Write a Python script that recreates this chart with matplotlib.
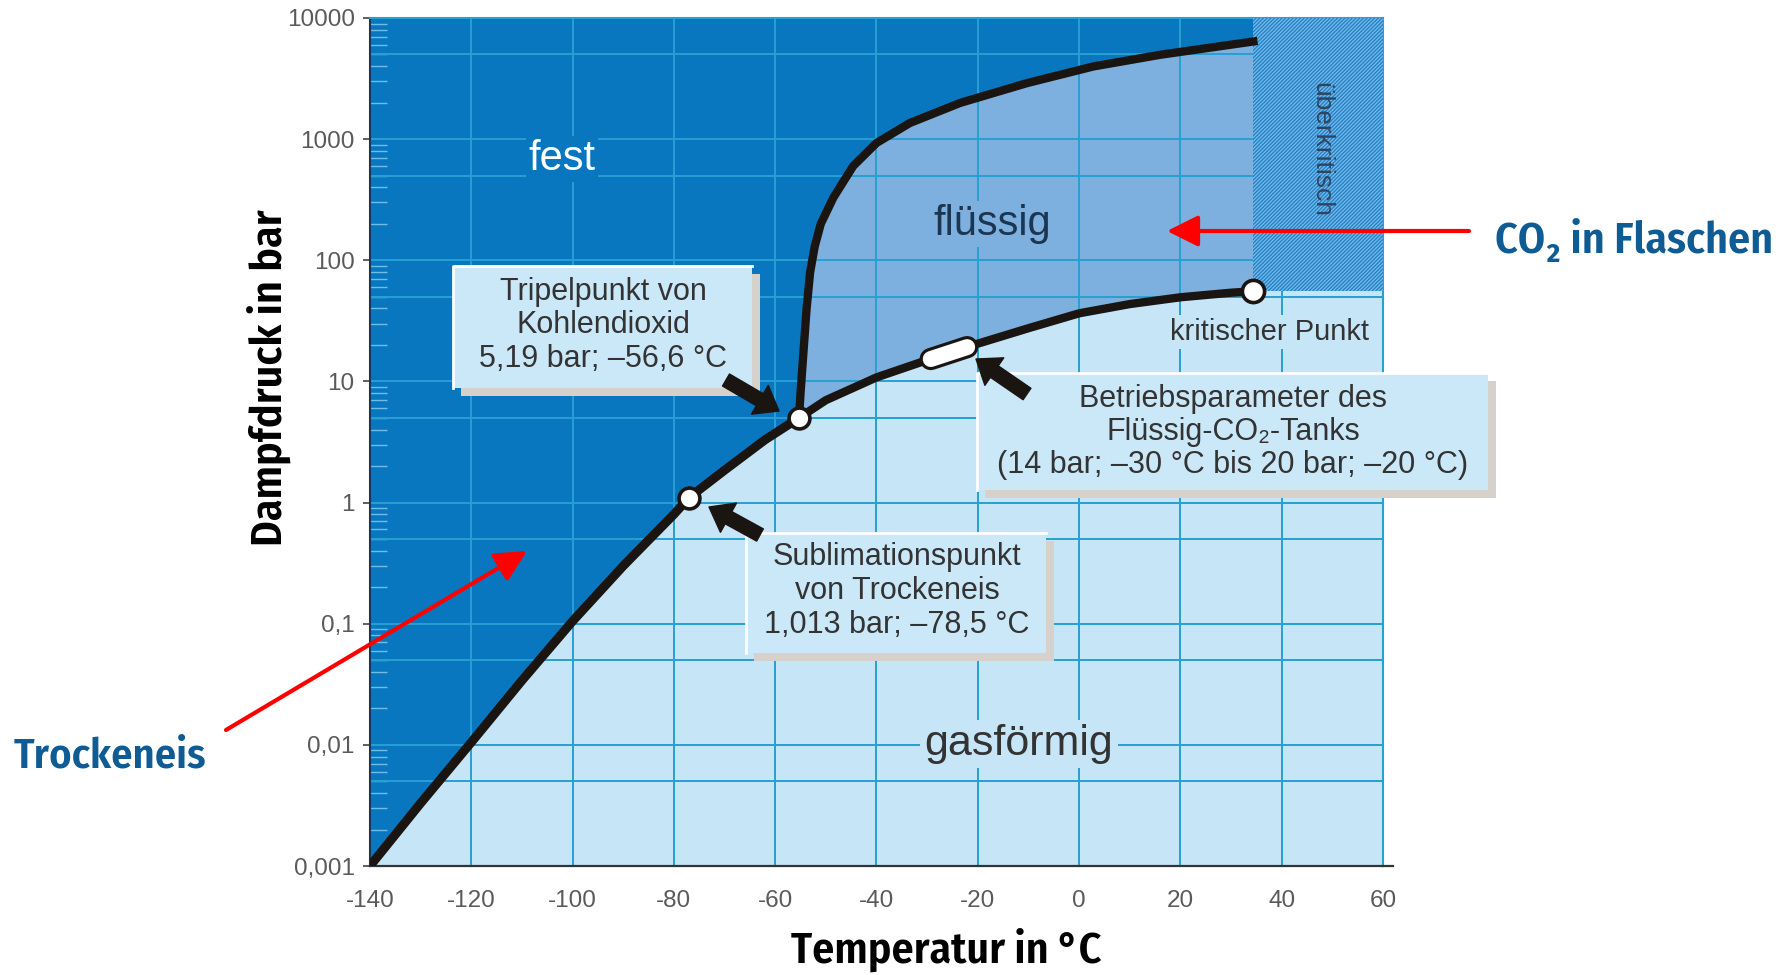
import matplotlib
matplotlib.use("Agg")
import matplotlib.pyplot as plt
from matplotlib.patches import Rectangle, FancyArrowPatch
from matplotlib.lines import Line2D
from matplotlib.ticker import LogLocator, NullFormatter

# ---------------- data ----------------
x_ticks = [-140, -120, -100, -80, -60, -40, -20, 0, 20, 40, 60]
x_tick_labels = ["-140", "-120", "-100", "-80", "-60", "-40", "-20", "0", "20", "40", "60"]
y_ticks = [0.001, 0.01, 0.1, 1, 10, 100, 1000, 10000]
y_tick_labels = ["0,001", "0,01", "0,1", "1", "10", "100", "1000", "10000"]

# sublimation curve (solid <-> gas)
subl_T = [-140, -130, -120, -110, -100, -90, -80, -77, -70, -62, -55.3]
subl_p = [0.001, 0.0033, 0.0105, 0.034, 0.105, 0.30, 0.80, 1.10, 1.85, 3.3, 5.0]
# melting curve (solid <-> liquid)
melt_T = [-55.3, -55.0, -54.4, -53.8, -53.1, -52.2, -51.0, -48.5, -44.6, -40.0, -33.4,
          -23.5, -10.3, 2.8, 16.0, 34.4]
melt_p = [5.0, 8, 18, 40, 80, 130, 200, 330, 600, 930, 1360, 1990, 2900, 3980, 4970, 6400]
# vapour pressure curve (liquid <-> gas)
vap_T = [-55.3, -50, -40, -30, -20, -10, 0, 10, 20, 30, 34.4]
vap_p = [5.0, 7.0, 10.8, 15.0, 20.5, 27.5, 36.5, 43.5, 49.5, 54.0, 55.5]

triple_T, triple_p = -55.3, 5.0
subl_pt_T, subl_pt_p = -77, 1.10
crit_T, crit_p = 34.4, 55.5
op_T = [-29.3, -22.1]
op_p = [15.3, 19.2]

# ---------------- styling ----------------
W, H = 1788, 975
def fx(x): return x / W
def fy(y): return 1 - y / H

C_SOLID = "#0877c0"
C_LIQ = "#7db0df"
C_GAS = "#c6e6f7"
C_GRID = "#27a0d2"
C_BOX = "#cbe8f8"
C_SHADOW = "#d6d1cb"
C_CURVE = "#1b1512"
C_TXT = "#333333"
C_BLUE_TXT = "#0f5b93"
COND = dict(family=["Fira Sans Condensed", "Roboto Condensed", "DejaVu Sans"],
            fontweight="semibold")

plt.rcParams['font.family'] = ['Liberation Sans', 'DejaVu Sans']
plt.rcParams['hatch.linewidth'] = 1.0

fig = plt.figure(figsize=(W / 100, H / 100), dpi=100)
ax = fig.add_axes([fx(370), fy(866), (1383 - 370) / W, (866 - 18) / H])
ax.set_yscale('log')
ax.set_facecolor(C_GAS)

# phase regions
solid_T = subl_T + melt_T[1:] + [melt_T[-1], subl_T[0]]
solid_p = subl_p + melt_p[1:] + [y_ticks[-1], y_ticks[-1]]
ax.fill(solid_T, solid_p, color=C_SOLID, lw=0, zorder=1)
liq_T = vap_T + melt_T[::-1]
liq_p = vap_p + melt_p[::-1]
ax.fill(liq_T, liq_p, color=C_LIQ, lw=0, zorder=1)

# grid
for t in x_ticks[1:-1]:
    ax.axvline(t, color=C_GRID, lw=1.4, zorder=2)
for e in range(-3, 4):
    for m in (1, 5):
        v = m * 10.0 ** e
        if y_ticks[0] < v < y_ticks[-1]:
            ax.axhline(v, color=C_GRID, lw=1.4, zorder=2)

# supercritical hatched area
ax.fill_between([crit_T, x_ticks[-1]], crit_p, y_ticks[-1], facecolor="#72bfee",
                edgecolor="#2a7fc4", hatch='/' * 9, lw=0, zorder=2.6)

# phase boundary curves
ax.plot(subl_T, subl_p, color=C_CURVE, lw=6.5, solid_joinstyle='round', zorder=3)
ax.plot(melt_T, melt_p, color=C_CURVE, lw=6.0, solid_joinstyle='round', zorder=3)
ax.plot(vap_T, vap_p, color=C_CURVE, lw=6.0, solid_joinstyle='round', zorder=3)

# operating range capsule
ax.plot(op_T, op_p, color=C_CURVE, lw=16, solid_capstyle='round', zorder=4)
ax.plot(op_T, op_p, color='white', lw=11.5, solid_capstyle='round', zorder=4.1)

# special points
for (t, p, ms) in [(triple_T, triple_p, 15), (subl_pt_T, subl_pt_p, 15), (crit_T, crit_p, 16)]:
    ax.plot([t], [p], marker='o', ms=ms, mfc='white', mec=C_CURVE, mew=2.6, zorder=5)

# axes formatting
ax.set_xlim(x_ticks[0], x_ticks[-1])
ax.set_ylim(y_ticks[0], y_ticks[-1])
ax.set_xticks(x_ticks, x_tick_labels)
ax.set_yticks(y_ticks, y_tick_labels)
ax.yaxis.set_minor_locator(LogLocator(base=10, subs=range(2, 10), numticks=30))
ax.yaxis.set_minor_formatter(NullFormatter())
ax.tick_params(axis='x', length=0, pad=17, labelsize=17.5, labelcolor='#5a5a5a')
ax.tick_params(axis='y', which='major', length=5, width=1.2, color='#444444', pad=6,
               labelsize=17.5, labelcolor='#5a5a5a', direction='out')
ax.tick_params(axis='y', which='minor', length=12, width=1.0, color='#70bce9', direction='in')
ax.spines['bottom'].set_color('#333333')
ax.spines['bottom'].set_linewidth(1.6)
ax.spines['left'].set_color('#16365a')
ax.spines['left'].set_linewidth(1.5)
for s in ('top', 'right'):
    ax.spines[s].set_color(C_GRID)
    ax.spines[s].set_linewidth(1.5)
ax.plot([1, 1.01], [0, 0], transform=ax.transAxes, clip_on=False, color='#333333', lw=1.6)

def atext(x, y, s, **kw):
    return ax.text(fx(x), fy(y), s, transform=fig.transFigure, **kw)

# region labels
atext(562, 170, "fest", ha='center', va='baseline', fontsize=30, color='white',
      bbox=dict(fc=C_SOLID, ec='none', pad=2), zorder=2.5)
atext(992, 235, "flüssig", ha='center', va='baseline', fontsize=30, color='#1c3550',
      bbox=dict(fc=C_LIQ, ec='none', pad=2), zorder=2.5)
atext(1019, 755, "gasförmig", ha='center', va='baseline', fontsize=31, color=C_TXT,
      bbox=dict(fc=C_GAS, ec='none', pad=3), zorder=2.5)
atext(1270, 340, "kritischer Punkt", ha='center', va='baseline', fontsize=21, color=C_TXT,
      bbox=dict(fc=C_GAS, ec='none', pad=2), zorder=2.5)
atext(1321, 150, "überkritisch", ha='center', va='center', rotation=-90, fontsize=19,
      color='#2d4560', zorder=2.7)

# axis titles
fig.text(fx(946), fy(963), "Temperatur in °C", ha='center', va='baseline', fontsize=31.5,
         color='black', **COND)
fig.text(fx(282), fy(378), "Dampfdruck in bar", ha='center', va='baseline', rotation=90,
         rotation_mode='anchor', fontsize=31.5, color='black', **COND)

# callout boxes
def box(x0, y0, x1, y1, dx=8, dy=8):
    fig.add_artist(Rectangle((fx(x0 + dx), fy(y1 + dy)), (x1 - x0) / W, (y1 - y0) / H,
                             transform=fig.transFigure, fc=C_SHADOW, ec='none', zorder=6))
    fig.add_artist(Rectangle((fx(x0), fy(y1)), (x1 - x0) / W, (y1 - y0) / H,
                             transform=fig.transFigure, fc=C_BOX, ec='none', zorder=6.1))
    fig.add_artist(Line2D([fx(x0), fx(x0), fx(x1)], [fy(y1), fy(y0), fy(y0)], color='white',
                          lw=2, transform=fig.transFigure, zorder=6.2))

def lines(xc, baselines, texts, size=22):
    for yb, s in zip(baselines, texts):
        fig.text(fx(xc), fy(yb), s, ha='center', va='baseline', fontsize=size,
                 color=C_TXT, zorder=7)

box(453, 266, 752, 388)
lines(603, [300, 333, 367], ["Tripelpunkt von", "Kohlendioxid", "5,19 bar; –56,6 °C"])
box(746, 533, 1046, 653)
lines(897, [565, 599, 633], ["Sublimationspunkt", "von Trockeneis", "1,013 bar; –78,5 °C"])
box(977, 373, 1488, 490)
lines(1233, [407, 440, 473], ["Betriebsparameter des", "Flüssig-CO₂-Tanks",
                              "(14 bar; –30 °C bis 20 bar; –20 °C)"])

# black pointer arrows
def black_arrow(xa, ya, xb, yb):
    fig.add_artist(FancyArrowPatch((fx(xa), fy(ya)), (fx(xb), fy(yb)), transform=fig.transFigure,
                                   arrowstyle='simple,head_length=16,head_width=24,tail_width=10',
                                   mutation_scale=1, color=C_CURVE, shrinkA=0, shrinkB=0, zorder=8))

black_arrow(726, 380, 779, 411)
black_arrow(760, 535, 709, 507)
black_arrow(1027, 394, 976, 359)

# red arrows
def red_arrow(xa, ya, xb, yb):
    fig.add_artist(FancyArrowPatch((fx(xa), fy(ya)), (fx(xb), fy(yb)), transform=fig.transFigure,
                                   arrowstyle='-|>,head_length=19,head_width=9.5',
                                   mutation_scale=1, color='#ff0000', lw=3, shrinkA=0, shrinkB=0,
                                   zorder=9))

red_arrow(1469, 231, 1167, 231)
red_arrow(226, 730, 527, 551)

fig.text(fx(1495), fy(253), "CO₂ in Flaschen", ha='left', va='baseline', fontsize=31.5,
         color=C_BLUE_TXT, **COND)
fig.text(fx(14), fy(767), "Trockeneis", ha='left', va='baseline', fontsize=30.5,
         color=C_BLUE_TXT, **COND)

fig.savefig("out.png", dpi=100, facecolor='white')
